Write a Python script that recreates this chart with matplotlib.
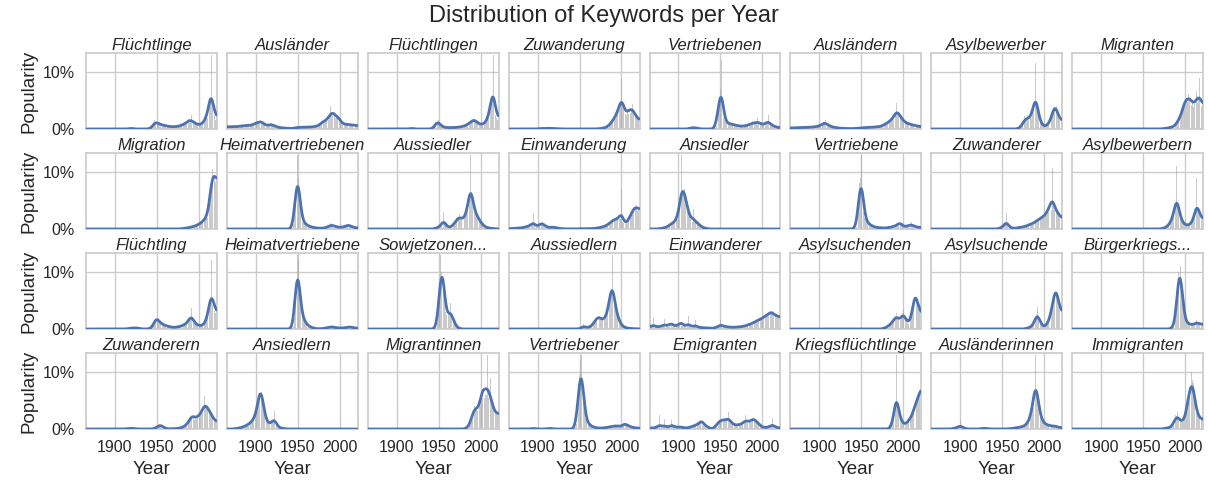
import numpy as np
import matplotlib
matplotlib.use("Agg")
import matplotlib.pyplot as plt
from matplotlib.ticker import PercentFormatter
import seaborn as sns

sns.set_theme(style="whitegrid")
plt.rcParams['font.family'] = ['Liberation Sans', 'DejaVu Sans']

years = np.arange(1866, 2022)

# popularity per year in percent, list starts at the given year
fluechtlinge_start = 1915
fluechtlinge = [0, 0, 0, 0.1, 0.2, 0.2, 0.1, 0, 0, 0,
                0, 0, 0, 0, 0, 0, 0, 0, 0, 0,
                0, 0, 0, 0, 0, 0, 0.1, 0, 0.1, 0.2,
                0.3, 0.9, 1.6, 1.2, 1.0, 1.4, 0.8, 1.1, 0.9, 0.7,
                0.8, 0.6, 0.9, 0.5, 0.6, 0.7, 0.4, 0.5, 0.6, 0.4,
                0.5, 0.3, 0.4, 0.5, 0.3, 0.4, 0.5, 0.4, 0.3, 0.5,
                0.4, 0.5, 0.6, 0.5, 0.7, 0.6, 0.8, 0.9, 0.7, 1.1,
                1.0, 1.4, 1.2, 1.8, 1.1, 1.5, 2.4, 1.3, 1.0, 1.2,
                0.9, 1.1, 0.8, 0.7, 0.9, 0.6, 0.8, 0.9, 0.7, 1.0,
                1.2, 1.0, 1.4, 1.8, 2.6, 2.0, 3.2, 3.5, 5.5, 5.0,
                13.0, 4.0, 3.0, 3.0, 2.4, 1.6, 2.0]

auslaender_start = 1866
auslaender = [0.4, 0.3, 0.5, 0.4, 0.3, 0.4, 0.5, 0.3, 0.4, 0.4,
              0.5, 0.3, 0.4, 0.5, 0.4, 0.6, 0.4, 0.5, 0.6, 0.5,
              0.7, 0.5, 0.6, 0.8, 0.5, 0.7, 0.6, 0.5, 0.8, 0.6,
              0.7, 0.9, 0.6, 1.0, 1.3, 0.9, 1.1, 1.4, 0.8, 1.2,
              2.0, 1.1, 1.3, 0.9, 0.8, 0.6, 0.7, 0.5, 0.6, 0.7,
              0.9, 0.5, 0.8, 1.0, 0.6, 0.7, 0.5, 0.6, 0.4, 0.3,
              0.4, 0.3, 0.2, 0.3, 0.2, 0.2, 0.1, 0.2, 0.2, 0.1,
              0.2, 0.1, 0.1, 0.2, 0.1, 0.1, 0.0, 0.1, 0.1, 0.1,
              0.2, 0.2, 0.3, 0.2, 0.3, 0.4, 0.2, 0.3, 0.3, 0.2,
              0.3, 0.4, 0.3, 0.2, 0.3, 0.4, 0.3, 0.3, 0.2, 0.4,
              0.3, 0.4, 0.3, 0.5, 0.4, 0.3, 0.5, 0.6, 0.4, 0.7,
              0.6, 0.9, 1.2, 1.0, 1.6, 1.1, 1.4, 1.3, 2.0, 1.5,
              1.8, 1.6, 2.2, 4.0, 2.4, 2.5, 3.5, 2.6, 2.9, 2.0,
              2.4, 1.9, 1.6, 3.2, 1.3, 1.2, 1.1, 0.9, 1.0, 0.8,
              0.9, 0.7, 0.8, 1.0, 0.6, 0.8, 0.7, 0.9, 0.6, 0.7,
              0.8, 0.6, 0.7, 0.6, 0.5, 0.6]

fluechtlingen_start = 1915
fluechtlingen = [0, 0.1, 0.1, 0.2, 0.1, 0.1, 0, 0, 0, 0,
                 0, 0, 0, 0, 0, 0, 0, 0, 0, 0,
                 0, 0, 0, 0, 0, 0, 0, 0, 0.1, 0.1,
                 0.3, 0.8, 1.3, 1.6, 1.2, 1.5, 0.9, 0.7, 0.5, 0.4,
                 0.3, 0.4, 0.3, 0.2, 0.3, 0.2, 0.3, 0.2, 0.2, 0.3,
                 0.2, 0.3, 0.2, 0.3, 0.2, 0.3, 0.2, 0.3, 0.4, 0.3,
                 0.3, 0.4, 0.3, 0.5, 0.4, 0.5, 0.6, 0.5, 0.7, 0.8,
                 0.9, 0.8, 1.1, 1.3, 1.0, 1.6, 1.9, 1.5, 1.8, 1.4,
                 1.3, 1.1, 1.0, 0.8, 0.9, 0.7, 0.8, 0.9, 0.7, 1.0,
                 1.1, 1.0, 1.3, 1.6, 2.2, 2.5, 3.0, 4.2, 5.2, 6.0,
                 13.0, 4.8, 3.4, 2.5, 2.0, 1.6, 1.8]

zuwanderung_start = 1900
zuwanderung = [0, 0, 0.1, 0.1, 0.2, 0.1, 0.1, 0, 0, 0.1,
               0.1, 0.2, 0.1, 0.1, 0.1, 0.2, 0.1, 0.1, 0, 0.1,
               0.1, 0.1, 0, 0.1, 0.1, 0, 0, 0.1, 0, 0,
               0, 0, 0, 0, 0, 0, 0, 0, 0, 0,
               0, 0, 0, 0, 0, 0, 0, 0, 0, 0,
               0, 0, 0, 0, 0, 0, 0, 0, 0, 0,
               0, 0, 0, 0, 0, 0, 0, 0, 0, 0,
               0, 0, 0, 0.1, 0, 0.1, 0.1, 0.1, 0.2, 0.1,
               0.2, 0.3, 0.2, 0.4, 0.5, 0.7, 0.6, 1.0, 1.3, 1.1,
               1.6, 1.9, 2.2, 1.7, 2.8, 3.2, 2.5, 4.5, 3.4, 4.8,
               8.9, 4.0, 3.8, 4.0, 3.0, 2.6, 2.4, 3.5, 2.7, 3.0,
               4.6, 2.8, 3.4, 4.3, 2.9, 3.3, 2.5, 2.2, 2.0, 1.8,
               1.6, 1.4]

vertriebenen_start = 1910
vertriebenen = [0, 0, 0, 0.1, 0.1, 0.2, 0.3, 0.2, 0.3, 0.2,
                0.3, 0.2, 0.1, 0.1, 0, 0.1, 0, 0, 0, 0,
                0, 0, 0, 0, 0, 0, 0, 0, 0, 0,
                0, 0, 0, 0.1, 0.2, 0.6, 1.5, 3.5, 4.5, 4.2,
                7.0, 12.0, 6.0, 3.5, 2.0, 1.5, 1.2, 1.0, 1.3, 0.9,
                0.8, 1.1, 0.9, 0.7, 0.8, 1.0, 0.6, 0.7, 0.8, 0.5,
                0.7, 0.5, 0.6, 0.4, 0.6, 0.5, 0.4, 0.5, 0.6, 0.4,
                0.6, 0.5, 0.8, 0.6, 0.7, 1.0, 0.6, 0.9, 1.4, 0.8,
                1.2, 0.9, 1.1, 0.8, 1.9, 1.0, 1.2, 0.9, 1.1, 0.8,
                0.7, 0.9, 0.6, 0.8, 1.0, 1.3, 0.8, 2.4, 1.0, 0.9,
                0.7, 0.8, 0.5, 0.6, 0.4, 0.5, 0.3, 0.4, 0.2, 0.3,
                0.2, 0.2]

auslaendern_start = 1866
auslaendern = [0.2, 0.1, 0.2, 0.3, 0.2, 0.1, 0.2, 0.3, 0.2, 0.2,
               0.3, 0.2, 0.2, 0.3, 0.2, 0.3, 0.2, 0.4, 0.3, 0.2,
               0.3, 0.4, 0.3, 0.2, 0.4, 0.3, 0.3, 0.4, 0.3, 0.5,
               0.4, 0.3, 0.5, 0.6, 0.4, 0.7, 0.6, 0.9, 0.7, 1.2,
               0.8, 1.6, 0.9, 0.7, 1.0, 0.5, 0.6, 0.4, 0.5, 0.3,
               0.4, 0.3, 0.2, 0.3, 0.3, 0.2, 0.2, 0.1, 0.2, 0.1,
               0.1, 0.1, 0.2, 0.1, 0.1, 0.0, 0.1, 0.1, 0.1, 0.0,
               0.1, 0.1, 0.0, 0.1, 0.1, 0.0, 0.1, 0.1, 0.1, 0.1,
               0.1, 0.2, 0.2, 0.1, 0.2, 0.3, 0.2, 0.3, 0.2, 0.3,
               0.2, 0.3, 0.4, 0.2, 0.3, 0.3, 0.2, 0.4, 0.3, 0.3,
               0.4, 0.3, 0.3, 0.4, 0.5, 0.3, 0.5, 0.4, 0.6, 0.5,
               0.6, 0.7, 0.9, 0.8, 1.0, 1.2, 0.9, 1.4, 1.3, 1.6,
               1.5, 1.9, 2.1, 1.8, 2.6, 2.5, 4.6, 2.8, 2.9, 2.4,
               2.7, 2.0, 1.6, 1.9, 1.3, 1.5, 1.0, 1.2, 0.9, 1.1,
               0.8, 1.0, 0.9, 0.7, 0.8, 0.6, 0.7, 0.8, 0.5, 0.6,
               0.5, 0.6, 0.4, 0.5, 0.3, 0.4]

asylbewerber_start = 1963
asylbewerber = [0, 0, 0, 0, 0, 0, 0.1, 0.1, 0.2, 0.3,
                0.5, 0.7, 1.0, 1.4, 2.2, 1.8, 1.6, 2.4, 1.5, 1.7,
                1.9, 2.2, 2.0, 3.5, 3.2, 4.5, 3.8, 11.5, 4.0, 3.0,
                2.8, 2.0, 1.5, 1.0, 0.8, 0.6, 0.5, 0.4, 0.5, 0.4,
                0.6, 0.8, 0.7, 1.2, 1.1, 1.6, 2.3, 2.6, 3.5, 3.8,
                6.0, 3.2, 4.1, 2.5, 2.2, 1.5, 1.6, 1.5, 1.4]

migranten_start = 1967
migranten = [0, 0, 0, 0, 0, 0, 0.1, 0, 0.1, 0.1,
             0.1, 0.2, 0.1, 0.2, 0.2, 0.3, 0.2, 0.3, 0.4, 0.3,
             0.5, 0.6, 0.8, 0.9, 1.2, 1.4, 1.8, 2.0, 2.2, 2.8,
             3.4, 3.6, 4.5, 6.0, 4.8, 5.5, 4.7, 6.2, 5.4, 4.6,
             6.5, 4.2, 4.5, 3.9, 4.4, 5.0, 4.1, 6.6, 4.6, 5.0,
             9.0, 4.2, 4.5, 4.0, 4.2]

migration_start = 1975
migration = [0, 0, 0, 0, 0.1, 0, 0.1, 0.1, 0.1, 0.2,
             0.1, 0.2, 0.2, 0.3, 0.2, 0.3, 0.4, 0.3, 0.5, 0.4,
             0.5, 0.6, 0.5, 0.7, 0.8, 0.9, 0.8, 1.1, 1.0, 1.3,
             1.4, 1.6, 1.5, 1.9, 2.2, 2.0, 2.8, 3.5, 5.0, 6.5,
             8.5, 10.5, 13.0, 8.0, 9.0, 8.2, 8.8]

heimatvertriebenen_start = 1935
heimatvertriebenen = [0, 0, 0, 0, 0, 0, 0, 0, 0.1, 0.2,
                      0.8, 2.5, 5.5, 8.0, 9.5, 13.0, 9.0, 6.0, 4.0, 2.2,
                      1.5, 1.3, 1.0, 1.1, 0.8, 0.9, 0.7, 0.6, 0.5, 0.4,
                      0.4, 0.3, 0.4, 0.3, 0.2, 0.3, 0.2, 0.2, 0.1, 0.2,
                      0.1, 0.1, 0.2, 0.1, 0.1, 0.2, 0.1, 0.2, 0.2, 0.3,
                      0.3, 0.4, 0.5, 0.4, 1.0, 0.6, 0.8, 0.5, 0.7, 0.4,
                      0.5, 0.3, 0.4, 0.3, 0.2, 0.3, 0.4, 0.3, 0.2, 0.4,
                      0.3, 0.5, 0.4, 0.6, 0.5, 1.2, 0.5, 0.7, 0.4, 0.5,
                      0.3, 0.4, 0.2, 0.3, 0.2, 0.1, 0.2]

aussiedler_start = 1945
aussiedler = [0, 0.1, 0.1, 0.2, 0.3, 0.4, 0.3, 0.5, 0.6, 0.9,
              1.0, 3.0, 1.2, 0.8, 0.5, 0.3, 0.2, 0.3, 0.2, 0.4,
              0.3, 0.5, 0.6, 0.8, 1.0, 1.2, 1.6, 1.5, 2.3, 1.8,
              2.6, 2.0, 1.7, 1.5, 1.9, 1.6, 2.0, 2.4, 2.8, 3.2,
              4.0, 4.6, 6.0, 13.0, 6.5, 5.5, 4.0, 3.5, 2.8, 3.0,
              2.5, 2.2, 2.0, 1.8, 1.5, 1.2, 1.0, 0.8, 0.6, 0.5,
              0.4, 0.3, 0.3, 0.2, 0.2, 0.1, 0.2, 0.1, 0.1, 0.1,
              0.1, 0, 0.1, 0, 0, 0, 0]

einwanderung_start = 1866
einwanderung = [0.1, 0, 0.1, 0.1, 0, 0.1, 0.1, 0.2, 0.1, 0.1,
                0.2, 0.1, 0.1, 0.2, 0.1, 0.2, 0.3, 0.2, 0.3, 0.4,
                0.3, 0.4, 0.5, 0.4, 0.6, 0.5, 0.8, 0.6, 0.9, 2.6,
                0.5, 0.6, 0.4, 0.3, 0.4, 0.6, 0.8, 1.0, 0.9, 1.1,
                1.2, 0.9, 0.6, 0.5, 0.4, 0.3, 0.3, 0.2, 0.3, 0.2,
                0.3, 0.4, 0.3, 0.4, 0.3, 0.3, 0.2, 0.2, 0.1, 0.1,
                0.1, 0.1, 0.1, 0, 0.1, 0, 0, 0.1, 0, 0,
                0, 0, 0.1, 0, 0, 0, 0, 0, 0, 0,
                0, 0.1, 0, 0, 0.1, 0, 0.1, 0, 0, 0.1,
                0, 0.1, 0, 0.1, 0, 0.1, 0.1, 0, 0.1, 0.1,
                0.1, 0, 0.1, 0.1, 0.2, 0.1, 0.2, 0.2, 0.3, 0.2,
                0.3, 0.4, 0.3, 0.5, 0.4, 0.6, 0.5, 0.7, 0.9, 0.8,
                1.0, 1.3, 1.1, 1.6, 1.4, 1.9, 1.7, 1.5, 1.8, 2.0,
                1.6, 1.9, 1.7, 1.8, 7.0, 1.2, 1.0, 0.9, 1.0, 0.8,
                1.0, 1.3, 1.5, 1.8, 2.4, 2.2, 2.8, 3.4, 3.0, 3.8,
                4.5, 3.6, 4.2, 3.2, 3.6, 3.4]

ansiedler_start = 1866
ansiedler = [0, 0, 0, 0, 0, 0, 0, 0, 0, 0,
             0, 0, 0.1, 0.1, 0.1, 0.2, 0.1, 0.2, 0.3, 0.2,
             0.4, 0.3, 0.5, 0.6, 0.8, 1.2, 0.7, 0.9, 1.1, 1.3,
             1.2, 1.6, 2.0, 1.8, 2.5, 3.5, 4.5, 4.5, 13.0, 6.0,
             6.5, 7.0, 6.0, 5.0, 4.2, 3.2, 2.8, 2.2, 1.8, 2.0,
             1.5, 1.2, 3.5, 1.4, 1.2, 0.8, 1.0, 0.9, 1.4, 0.6,
             0.5, 0.4, 0.3, 0.3, 0.2, 0.2, 0.1, 0.1, 0.1, 0]

vertriebene_start = 1935
vertriebene = [0, 0, 0, 0, 0, 0, 0, 0.1, 0.1, 0.3,
               0.8, 2.5, 5.0, 8.0, 9.0, 13.0, 8.5, 5.0, 3.0, 2.0,
               1.6, 1.3, 1.2, 0.9, 1.0, 0.8, 0.7, 0.6, 0.5, 0.5,
               0.4, 0.3, 0.3, 0.2, 0.3, 0.2, 0.2, 0.3, 0.2, 0.2,
               0.2, 0.1, 0.2, 0.2, 0.1, 0.2, 0.3, 0.2, 0.3, 0.2,
               0.3, 0.4, 0.3, 0.5, 0.4, 0.6, 0.5, 0.7, 0.6, 0.8,
               0.7, 2.4, 0.8, 0.6, 0.5, 0.4, 0.5, 0.3, 0.4, 0.5,
               0.5, 0.6, 0.7, 0.5, 0.8, 1.2, 0.6, 0.5, 0.4, 0.5,
               0.4, 0.3, 0.4, 0.2, 0.3, 0.2, 0.3]

zuwanderer_start = 1945
zuwanderer = [0, 0.1, 0.1, 0.2, 0.2, 0.3, 0.4, 0.5, 0.7, 0.9,
              2.8, 0.8, 0.6, 0.4, 0.3, 0.2, 0.2, 0.1, 0.1, 0.1,
              0.1, 0.2, 0.1, 0.2, 0.2, 0.3, 0.2, 0.3, 0.4, 0.3,
              0.3, 0.4, 0.5, 0.4, 0.6, 0.5, 0.7, 0.8, 0.7, 1.0,
              0.8, 1.0, 0.9, 1.2, 1.1, 1.3, 1.5, 1.4, 1.8, 1.6,
              1.7, 2.0, 1.8, 2.2, 2.1, 2.5, 2.3, 2.8, 2.6, 3.2,
              3.0, 3.6, 5.5, 3.4, 3.4, 10.7, 3.8, 3.4, 3.0, 3.0,
              3.8, 2.6, 3.0, 2.2, 2.0, 1.8, 1.9]

asylbewerbern_start = 1970
asylbewerbern = [0, 0, 0, 0.1, 0.1, 0.2, 0.2, 0.3, 0.3, 0.4,
                 0.6, 0.8, 1.0, 1.3, 1.5, 1.8, 2.2, 2.8, 3.4, 4.0,
                 11.0, 4.0, 3.6, 3.0, 2.4, 1.8, 1.4, 1.1, 0.9, 0.8,
                 0.8, 0.7, 0.6, 0.7, 0.6, 0.8, 0.7, 0.9, 1.0, 1.3,
                 1.6, 2.0, 2.4, 3.0, 9.0, 3.2, 3.0, 2.8, 2.2, 2.0,
                 1.6, 1.4]

fluechtling_start = 1915
fluechtling = [0, 0.1, 0.1, 0.2, 0.1, 0.2, 0.3, 0.1, 0.2, 0.1,
               0.2, 0.3, 0.2, 0.1, 0.1, 0, 0.1, 0, 0, 0,
               0, 0, 0, 0, 0, 0, 0, 0.1, 0.1, 0.2,
               0.4, 0.8, 1.3, 1.6, 1.8, 3.0, 1.5, 1.4, 1.1, 1.2,
               0.9, 1.0, 0.7, 0.8, 0.6, 0.7, 0.5, 0.6, 0.4, 0.5,
               0.4, 0.3, 0.4, 0.3, 0.2, 0.4, 0.3, 0.2, 0.3, 0.4,
               0.3, 0.4, 0.5, 0.4, 0.6, 0.5, 0.7, 0.6, 0.8, 0.9,
               0.8, 1.1, 1.3, 1.5, 1.8, 2.0, 3.7, 1.9, 1.5, 1.3,
               1.0, 0.9, 0.8, 0.7, 0.6, 0.7, 0.5, 0.6, 0.5, 0.7,
               0.6, 0.8, 0.9, 1.2, 1.5, 2.0, 2.8, 3.6, 4.0, 5.0,
               12.0, 4.2, 5.0, 3.8, 3.2, 2.8, 2.6]

heimatvertriebene_start = 1938
heimatvertriebene = [0, 0, 0, 0, 0, 0.1, 0.2, 0.6, 2.0, 5.5,
                     9.0, 12.0, 13.0, 12.0, 8.0, 4.0, 2.5, 2.0, 2.2, 1.8,
                     1.5, 1.2, 0.9, 0.7, 0.6, 0.5, 0.4, 0.5, 0.3, 0.2,
                     0.2, 0.1, 0.1, 0.1, 0, 0.1, 0, 0.1, 0, 0,
                     0.1, 0, 0.1, 0.1, 0.2, 0.1, 0.2, 0.2, 0.3, 0.2,
                     0.3, 0.4, 0.6, 0.3, 0.4, 0.2, 0.3, 0.2, 0.3, 0.2,
                     0.2, 0.1, 0.2, 0.2, 0.1, 0.2, 0.1, 0.2, 0.2, 0.3,
                     0.2, 0.3, 0.4, 0.2, 0.6, 0.3, 0.4, 0.2, 0.3, 0.2,
                     0.1, 0.2, 0.1, 0.1]

sowjetzonen_start = 1940
sowjetzonen = [0, 0, 0, 0, 0, 0, 0.1, 0.3, 0.6, 1.2,
               3.0, 6.5, 13.0, 10.0, 11.5, 13.0, 9.0, 5.0, 3.0, 2.5,
               2.2, 2.0, 2.6, 2.8, 4.5, 2.5, 2.2, 2.0, 1.4, 0.9,
               0.6, 0.4, 0.3, 0.2, 0.1, 0.1, 0, 0, 0, 0]

aussiedlern_start = 1950
aussiedlern = [0, 0.1, 0.2, 0.3, 0.4, 0.8, 0.5, 0.3, 0.2, 0.2,
               0.2, 0.3, 0.3, 0.4, 0.5, 0.6, 0.8, 1.0, 1.3, 1.6,
               1.8, 2.2, 1.9, 2.5, 2.2, 1.8, 1.6, 1.5, 1.6, 1.8,
               1.6, 1.9, 2.2, 2.8, 3.4, 4.2, 5.2, 6.5, 7.0, 13.0,
               6.0, 5.5, 4.5, 3.8, 3.0, 2.4, 1.8, 1.5, 1.2, 0.9,
               0.7, 0.5, 0.4, 0.3, 0.3, 0.2, 0.2, 0.1, 0.2, 0.1,
               0.1, 0.1, 0.1, 0, 0.1, 0, 0.1, 0, 0, 0.1, 0, 0]

einwanderer_start = 1866
einwanderer = [0.3, 0.2, 0.4, 0.3, 2.0, 0.3, 0.2, 0.4, 0.3, 0.5,
               0.4, 0.3, 0.5, 0.4, 0.6, 0.3, 0.5, 1.8, 0.4, 0.6,
               0.5, 0.7, 0.4, 0.6, 0.5, 2.5, 0.6, 0.4, 0.5, 0.7,
               0.6, 0.4, 0.5, 0.8, 0.6, 0.5, 0.7, 3.0, 0.6, 0.5,
               0.7, 0.6, 0.5, 0.4, 0.6, 0.5, 2.2, 0.4, 0.5, 0.3,
               0.4, 0.3, 0.5, 0.4, 1.5, 0.3, 0.4, 0.3, 0.2, 0.3,
               0.2, 0.3, 0.2, 0.3, 0.2, 0.1, 0.2, 0.3, 0.2, 0.1,
               0.2, 0.1, 0.2, 0.1, 0.1, 0.2, 0.1, 0.1, 0.2, 0.3,
               0.4, 0.3, 0.5, 0.4, 1.6, 0.5, 0.4, 0.6, 0.5, 0.4,
               0.5, 0.4, 0.3, 0.4, 0.3, 0.4, 0.3, 0.2, 0.3, 0.4,
               0.3, 0.2, 0.3, 0.4, 0.3, 0.4, 0.3, 0.5, 0.4, 0.3,
               0.4, 0.5, 0.4, 0.6, 0.5, 0.7, 0.6, 0.8, 0.7, 0.9,
               0.8, 1.0, 0.9, 1.2, 1.1, 1.3, 1.2, 1.5, 1.4, 1.6,
               1.5, 1.7, 1.6, 2.0, 1.8, 2.2, 1.9, 2.4, 2.1, 2.6,
               2.3, 2.8, 2.5, 3.6, 2.6, 2.9, 3.2, 2.7, 2.5, 2.4,
               2.2, 2.6, 2.0, 2.3, 1.9, 2.1]

asylsuchenden_start = 1975
asylsuchenden = [0, 0.1, 0.1, 0.2, 0.2, 0.3, 0.4, 0.5, 0.6, 0.7,
                 0.8, 1.0, 1.2, 1.4, 1.6, 2.0, 2.2, 2.8, 2.0, 1.8,
                 1.5, 1.3, 1.6, 2.0, 2.8, 3.5, 2.6, 2.2, 1.6, 1.2,
                 1.0, 0.9, 1.1, 1.3, 1.8, 2.2, 2.8, 3.5, 4.5, 12.0,
                 5.5, 5.0, 4.5, 3.5, 3.0, 2.6, 2.4]

asylsuchende_start = 1975
asylsuchende = [0, 0, 0, 0.1, 0.1, 0.1, 0.2, 0.2, 0.3, 0.3,
                0.4, 0.5, 0.7, 1.0, 1.4, 2.0, 2.6, 3.8, 2.4, 1.8,
                1.2, 0.9, 0.6, 0.5, 0.4, 0.3, 0.4, 0.5, 0.7, 0.9,
                1.2, 1.5, 2.0, 2.6, 3.4, 4.2, 5.0, 6.0, 6.5, 11.5,
                6.0, 5.5, 4.5, 3.8, 3.2, 2.8, 2.6]

buergerkriegs_start = 1980
buergerkriegs = [0, 0, 0, 0.1, 0.1, 0.2, 0.3, 0.5, 0.8, 1.5,
                 3.5, 7.0, 10.0, 12.0, 13.0, 11.0, 8.0, 5.0, 3.0, 2.0,
                 1.5, 1.2, 1.0, 0.9, 1.1, 0.8, 0.9, 0.7, 0.8, 0.6,
                 0.8, 0.9, 0.7, 1.2, 1.5, 0.9, 1.0, 0.8, 1.3, 0.7,
                 0.6, 0.8]

zuwanderern_start = 1905
zuwanderern = [0, 0, 0, 0, 0, 0, 0, 0.1, 0, 0,
               0.1, 0, 0.1, 0.1, 0.2, 0.1, 0.2, 0.1, 0.1, 0,
               0, 0.1, 0, 0, 0, 0, 0, 0, 0, 0,
               0, 0, 0, 0, 0, 0, 0, 0, 0, 0,
               0, 0, 0.1, 0.1, 0.2, 0.3, 0.4, 0.6, 0.8, 0.6,
               1.0, 0.5, 0.4, 0.2, 0.2, 0.1, 0.1, 0, 0.1, 0,
               0, 0, 0.1, 0, 0, 0.1, 0, 0.1, 0.1, 0.1,
               0.1, 0.1, 0.2, 0.1, 0.2, 0.3, 0.3, 0.4, 0.5, 0.6,
               0.7, 0.8, 1.0, 1.3, 1.5, 1.8, 2.0, 3.8, 1.8, 2.2,
               1.6, 2.0, 1.8, 2.5, 2.0, 2.3, 2.6, 2.4, 3.0, 3.2,
               3.6, 3.6, 5.7, 4.2, 4.0, 3.8, 3.4, 3.6, 3.0, 2.8,
               2.5, 2.2, 1.8, 1.6, 1.4, 1.3, 1.1]

ansiedlern_start = 1870
ansiedlern = [0, 0, 0, 0, 0, 0.1, 0, 0.1, 0.1, 0.2,
              0.1, 0.2, 0.3, 0.2, 0.4, 0.3, 0.5, 0.4, 0.6, 0.7,
              0.8, 0.6, 0.9, 1.0, 1.2, 1.4, 1.3, 1.6, 1.9, 2.2,
              2.5, 3.0, 3.8, 4.8, 6.0, 10.5, 7.0, 6.5, 5.5, 4.2,
              3.0, 2.2, 1.6, 1.2, 1.0, 0.9, 0.8, 1.0, 0.9, 1.2,
              1.3, 1.5, 3.2, 1.2, 1.0, 0.7, 0.5, 0.3, 0.2, 0.2,
              0.1, 0.1, 0.1, 0.1, 0, 0.1, 0, 0, 0, 0]

migrantinnen_start = 1980
migrantinnen = [0, 0, 0.1, 0.1, 0.2, 0.3, 0.5, 0.8, 1.2, 1.8,
                2.4, 3.0, 3.6, 4.0, 3.8, 3.5, 3.2, 3.4, 3.8, 4.5,
                5.0, 5.8, 5.5, 13.0, 5.0, 5.5, 6.0, 6.0, 13.0, 5.5,
                5.0, 4.5, 9.0, 4.5, 3.8, 3.4, 3.0, 2.8, 3.0, 2.6,
                2.8, 2.5]

vertriebener_start = 1890
vertriebener = [0, 0, 0, 0.1, 0.1, 0.2, 0.1, 0.1, 0, 0,
                0, 0, 0, 0, 0, 0, 0, 0, 0, 0,
                0, 0, 0.1, 0.1, 0.2, 0.2, 0.1, 0.1, 0, 0,
                0, 0, 0, 0, 0, 0, 0, 0, 0, 0,
                0, 0, 0, 0, 0, 0, 0, 0, 0, 0,
                0, 0, 0, 0, 0.1, 0.3, 0.8, 2.0, 4.0, 7.0,
                9.5, 12.0, 13.0, 10.5, 8.0, 5.0, 3.0, 1.8, 1.4, 1.2,
                1.0, 0.9, 0.8, 0.6, 0.5, 0.4, 0.4, 0.3, 0.3, 0.2,
                0.2, 0.2, 0.1, 0.2, 0.2, 0.1, 0.2, 0.2, 0.1, 0.2,
                0.2, 0.3, 0.2, 0.3, 0.3, 0.4, 0.3, 0.4, 0.5, 0.4,
                0.5, 0.6, 0.4, 0.7, 0.5, 0.6, 0.4, 0.5, 0.4, 0.5,
                0.5, 0.6, 0.5, 0.7, 2.0, 0.6, 0.5, 0.8, 0.6, 0.4,
                0.5, 0.3, 0.4, 0.3, 0.2, 0.3, 0.2, 0.2, 0.1, 0.2,
                0.1, 0.2]

emigranten_start = 1866
emigranten = [0.1, 0.2, 0.1, 0.3, 0.2, 0.1, 0.2, 0.3, 0.2, 0.1,
              0.2, 2.4, 0.3, 0.2, 0.3, 0.2, 0.3, 1.8, 0.2, 0.3,
              0.2, 0.3, 0.4, 0.3, 0.5, 0.4, 1.6, 0.5, 0.4, 0.3,
              0.4, 0.3, 0.2, 0.3, 0.4, 0.3, 0.5, 0.4, 0.3, 0.2,
              0.3, 0.2, 0.1, 0.2, 0.1, 0.2, 0.3, 0.2, 0.4, 0.3,
              0.5, 0.4, 0.6, 0.5, 0.7, 0.6, 0.8, 0.9, 1.0, 0.8,
              1.1, 0.9, 3.8, 0.7, 0.6, 0.4, 0.3, 0.2, 1.5, 0.1,
              0.1, 0.1, 0, 0.1, 0, 0.1, 0.1, 0.2, 0.4, 0.6,
              0.9, 1.1, 1.3, 1.5, 1.4, 1.7, 1.5, 1.6, 1.8, 1.4,
              1.6, 1.5, 1.7, 1.4, 3.0, 1.5, 1.2, 1.1, 0.9, 0.8,
              0.7, 0.8, 0.6, 0.7, 0.8, 0.6, 0.7, 0.8, 0.9, 0.8,
              1.0, 0.9, 1.1, 1.2, 2.5, 1.3, 1.1, 1.4, 1.2, 1.3,
              1.4, 1.2, 1.5, 3.0, 1.4, 1.6, 1.3, 1.5, 1.2, 1.0,
              0.8, 0.7, 0.5, 0.4, 0.3, 0.2, 0.3, 0.2, 0.3, 0.2,
              0.3, 0.4, 0.3, 0.5, 0.4, 0.3, 2.0, 0.4, 0.3, 0.4,
              0.3, 0.2, 0.3, 0.2, 0.1, 0.2]

kriegsfluechtlinge_start = 1980
kriegsfluechtlinge = [0, 0, 0, 0, 0.1, 0.2, 0.4, 0.8, 1.5, 2.5,
                      3.2, 4.5, 13.0, 4.0, 2.8, 2.6, 2.0, 1.5, 1.2, 1.0,
                      0.9, 0.8, 0.9, 0.8, 1.0, 1.1, 1.3, 1.6, 1.8, 2.2,
                      2.0, 2.4, 2.8, 3.2, 6.0, 3.6, 4.4, 5.2, 6.0, 6.8,
                      7.5, 7.0]

auslaenderinnen_start = 1890
auslaenderinnen = [0, 0, 0.1, 0.1, 0.2, 0.2, 0.3, 0.2, 0.4, 0.3,
                   1.5, 0.3, 0.2, 0.3, 0.2, 0.1, 0.1, 0, 0, 0,
                   0, 0, 0, 0, 0, 0, 0, 0, 0, 0,
                   0, 0, 0, 0, 0, 0.1, 0.1, 0.2, 0.1, 0.1,
                   0.2, 0.1, 0.1, 0, 0, 0, 0, 0, 0, 0,
                   0, 0, 0, 0, 0, 0, 0, 0, 0, 0,
                   0, 0, 0, 0, 0, 0, 0.1, 0, 0, 0.1,
                   0, 0.1, 0.1, 0.1, 0.2, 0.1, 0.2, 0.2, 0.3, 0.2,
                   0.3, 0.3, 0.4, 0.3, 0.4, 0.5, 0.4, 0.6, 0.7, 0.8,
                   1.0, 1.2, 1.5, 1.8, 2.2, 2.8, 3.5, 4.5, 7.0, 6.5,
                   13.0, 7.0, 6.0, 4.5, 3.5, 2.5, 2.0, 1.6, 1.4, 1.2,
                   1.0, 0.9, 0.8, 0.7, 0.8, 0.7, 0.6, 0.5, 0.6, 0.5,
                   0.6, 0.4, 0.7, 0.5, 0.6, 0.4, 0.3, 0.3, 0.2, 0.3,
                   0.2, 0.2]

immigranten_start = 1975
immigranten = [0, 0.1, 0.2, 0.2, 0.3, 0.2, 0.1, 0.2, 0.3, 0.4,
               0.6, 0.8, 1.2, 1.6, 2.4, 2.2, 3.0, 2.0, 1.6, 1.4,
               1.3, 1.2, 1.3, 1.2, 1.5, 1.8, 2.5, 3.5, 4.5, 5.5,
               6.5, 7.0, 8.0, 10.0, 8.5, 8.0, 6.0, 4.5, 3.5, 2.8,
               2.4, 2.2, 2.0, 1.8, 1.9, 1.6, 1.5]

keywords = ["Flüchtlinge", "Ausländer", "Flüchtlingen", "Zuwanderung",
            "Vertriebenen", "Ausländern", "Asylbewerber", "Migranten",
            "Migration", "Heimatvertriebenen", "Aussiedler", "Einwanderung",
            "Ansiedler", "Vertriebene", "Zuwanderer", "Asylbewerbern",
            "Flüchtling", "Heimatvertriebene", "Sowjetzonen...", "Aussiedlern",
            "Einwanderer", "Asylsuchenden", "Asylsuchende", "Bürgerkriegs...",
            "Zuwanderern", "Ansiedlern", "Migrantinnen", "Vertriebener",
            "Emigranten", "Kriegsflüchtlinge", "Ausländerinnen", "Immigranten"]

series = [(fluechtlinge_start, fluechtlinge), (auslaender_start, auslaender),
          (fluechtlingen_start, fluechtlingen), (zuwanderung_start, zuwanderung),
          (vertriebenen_start, vertriebenen), (auslaendern_start, auslaendern),
          (asylbewerber_start, asylbewerber), (migranten_start, migranten),
          (migration_start, migration), (heimatvertriebenen_start, heimatvertriebenen),
          (aussiedler_start, aussiedler), (einwanderung_start, einwanderung),
          (ansiedler_start, ansiedler), (vertriebene_start, vertriebene),
          (zuwanderer_start, zuwanderer), (asylbewerbern_start, asylbewerbern),
          (fluechtling_start, fluechtling), (heimatvertriebene_start, heimatvertriebene),
          (sowjetzonen_start, sowjetzonen), (aussiedlern_start, aussiedlern),
          (einwanderer_start, einwanderer), (asylsuchenden_start, asylsuchenden),
          (asylsuchende_start, asylsuchende), (buergerkriegs_start, buergerkriegs),
          (zuwanderern_start, zuwanderern), (ansiedlern_start, ansiedlern),
          (migrantinnen_start, migrantinnen), (vertriebener_start, vertriebener),
          (emigranten_start, emigranten), (kriegsfluechtlinge_start, kriegsfluechtlinge),
          (auslaenderinnen_start, auslaenderinnen), (immigranten_start, immigranten)]


def full_series(start, vals):
    v = np.zeros(len(years))
    i0 = start - years[0]
    vals = np.asarray(vals, dtype=float)[:len(years) - i0]
    v[i0:i0 + len(vals)] = vals
    return v / 100.0


def kde_line(v, bw=2.5):
    # gaussian smoothing over the years, renormalised at the edges
    k = np.arange(-8, 9)
    w = np.exp(-0.5 * (k / bw) ** 2)
    num = np.convolve(v, w, mode="same")
    den = np.convolve(np.ones_like(v), w, mode="same")
    return num / den


fig, axes = plt.subplots(4, 8, figsize=(12.08, 4.83), dpi=100, sharex=True, sharey=True)
plt.subplots_adjust(left=0.0712, right=0.9959, top=0.8903, bottom=0.1118,
                    wspace=0.0763, hspace=0.316)

for i, ax in enumerate(axes.flat):
    start, vals = series[i]
    v = full_series(start, vals)
    ax.bar(years, v, width=0.8, color="#a8a8a8", alpha=0.6, linewidth=0, zorder=2)
    ax.plot(years, kde_line(v), color="#4C72B0", lw=2.0, zorder=3)
    ax.set_title(keywords[i], fontsize=12, style="italic", pad=2)
    ax.set_xlim(1865.5, 2021.5)
    ax.set_ylim(0, 0.133)
    ax.set_xticks([1900, 1950, 2000])
    ax.set_yticks([0, 0.1])
    ax.yaxis.set_major_formatter(PercentFormatter(1.0, decimals=0))
    ax.tick_params(labelsize=11.5, pad=2)
    for s in ax.spines.values():
        s.set_color("#cccccc")
        s.set_linewidth(1.25)
    if i % 8 == 0:
        ax.set_ylabel("Popularity", fontsize=13.5)
    if i >= 24:
        ax.set_xlabel("Year", fontsize=13.5)

fig.suptitle("Distribution of Keywords per Year", fontsize=17, y=0.99)
fig.savefig("out.png", dpi=100)
